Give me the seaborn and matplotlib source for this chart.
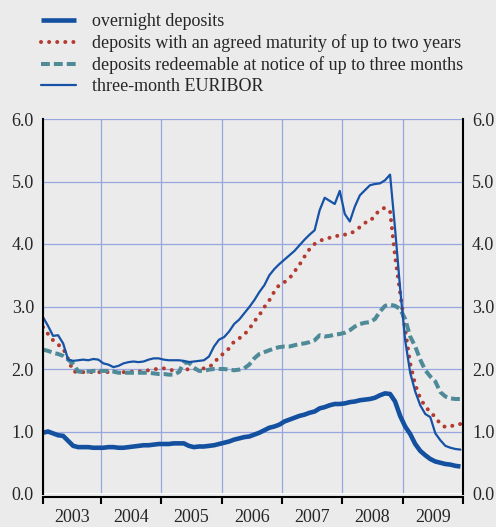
import numpy as np
import pandas as pd
import seaborn as sns
import matplotlib.pyplot as plt

# monthly values, Jan 2003 - Dec 2009
overnight = [0.98, 1.00, 0.97, 0.94, 0.93, 0.85, 0.77, 0.75, 0.75, 0.75, 0.74, 0.74,
             0.74, 0.75, 0.75, 0.74, 0.74, 0.75, 0.76, 0.77, 0.78, 0.78, 0.79, 0.80,
             0.80, 0.80, 0.81, 0.81, 0.81, 0.77, 0.75, 0.76, 0.76, 0.77, 0.78, 0.80,
             0.82, 0.84, 0.87, 0.89, 0.91, 0.92, 0.95, 0.98, 1.02, 1.06, 1.08, 1.11,
             1.16, 1.19, 1.22, 1.25, 1.27, 1.30, 1.32, 1.37, 1.39, 1.42, 1.44, 1.44,
             1.45, 1.47, 1.48, 1.50, 1.51, 1.52, 1.54, 1.58, 1.61, 1.60, 1.48, 1.25,
             1.08, 0.96, 0.80, 0.69, 0.62, 0.56, 0.52, 0.50, 0.48, 0.47, 0.45, 0.44]
agreed = [2.67, 2.56, 2.46, 2.39, 2.33, 2.16, 1.96, 1.95, 1.95, 1.95, 1.95, 1.95,
          1.95, 1.95, 1.95, 1.95, 1.95, 1.95, 1.96, 1.96, 1.97, 1.98, 1.99, 2.01,
          2.01, 2.00, 1.97, 1.96, 1.98, 2.00, 2.00, 2.00, 2.01, 2.03, 2.09, 2.20,
          2.25, 2.33, 2.44, 2.49, 2.55, 2.64, 2.76, 2.86, 2.99, 3.10, 3.24, 3.35,
          3.39, 3.45, 3.56, 3.67, 3.80, 3.92, 4.00, 4.05, 4.08, 4.10, 4.11, 4.15,
          4.15, 4.16, 4.21, 4.27, 4.34, 4.36, 4.46, 4.55, 4.58, 4.52, 3.80, 3.22,
          2.63, 2.09, 1.75, 1.53, 1.40, 1.31, 1.23, 1.12, 1.07, 1.08, 1.11, 1.12]
notice = [2.31, 2.29, 2.26, 2.24, 2.21, 2.15, 2.08, 1.96, 1.95, 1.96, 1.97, 1.97,
          1.97, 1.97, 1.96, 1.94, 1.94, 1.94, 1.94, 1.94, 1.94, 1.94, 1.93, 1.92,
          1.92, 1.91, 1.91, 1.95, 2.10, 2.10, 2.02, 1.97, 1.97, 1.99, 2.00, 2.00,
          2.00, 1.99, 1.98, 1.99, 2.01, 2.07, 2.17, 2.24, 2.27, 2.30, 2.33, 2.35,
          2.36, 2.36, 2.38, 2.40, 2.41, 2.43, 2.46, 2.54, 2.52, 2.53, 2.55, 2.56,
          2.58, 2.62, 2.68, 2.72, 2.74, 2.75, 2.80, 2.92, 3.01, 3.03, 3.01, 2.96,
          2.80, 2.52, 2.36, 2.15, 1.98, 1.88, 1.80, 1.63, 1.56, 1.53, 1.52, 1.52]
euribor = [2.83, 2.69, 2.53, 2.54, 2.41, 2.15, 2.13, 2.14, 2.15, 2.14, 2.16, 2.15,
           2.09, 2.07, 2.03, 2.05, 2.09, 2.11, 2.12, 2.11, 2.12, 2.15, 2.17, 2.17,
           2.15, 2.14, 2.14, 2.14, 2.13, 2.11, 2.12, 2.13, 2.14, 2.20, 2.36, 2.47,
           2.51, 2.60, 2.72, 2.79, 2.89, 2.99, 3.10, 3.23, 3.34, 3.50, 3.60, 3.68,
           3.75, 3.82, 3.89, 3.98, 4.07, 4.15, 4.22, 4.54, 4.74, 4.69, 4.64, 4.85,
           4.48, 4.36, 4.60, 4.78, 4.86, 4.94, 4.96, 4.97, 5.02, 5.11, 4.24, 3.29,
           2.46, 1.94, 1.64, 1.42, 1.28, 1.23, 0.97, 0.86, 0.77, 0.74, 0.72, 0.71]
years = ["2003", "2004", "2005", "2006", "2007", "2008", "2009"]
labels = ["overnight deposits",
          "deposits with an agreed maturity of up to two years",
          "deposits redeemable at notice of up to three months",
          "three-month EURIBOR"]

df = pd.DataFrame({"month": np.arange(len(euribor)), "overnight": overnight,
                   "agreed": agreed, "notice": notice, "euribor": euribor})

sns.set_style("white")
plt.rcParams["font.family"] = ["Liberation Serif", "DejaVu Serif"]
plt.rcParams["xtick.labelsize"] = 13
plt.rcParams["ytick.labelsize"] = 13
bg = "#ebebeb"

fig = plt.figure(figsize=(4.96, 5.27), dpi=100, facecolor=bg)
ax = fig.add_axes([43 / 496, 1 - 494 / 527, 420 / 496, 375 / 527])
ax.set_facecolor(bg)

sns.lineplot(data=df, x="month", y="overnight", ax=ax, color="#1450a0", lw=3.3,
             label=labels[0], solid_capstyle="butt")
sns.lineplot(data=df, x="month", y="agreed", ax=ax, color="#b23a2e", lw=2.9,
             linestyle=(0, (0.01, 2.0)), dash_capstyle="round", label=labels[1])
sns.lineplot(data=df, x="month", y="notice", ax=ax, color="#4f8a98", lw=2.9,
             linestyle=(0, (2.2, 1.0)), dash_capstyle="butt", label=labels[2])
sns.lineplot(data=df, x="month", y="euribor", ax=ax, color="#1652a6", lw=1.6,
             label=labels[3])

ax.set_xlim(0, 83.5)
ax.set_ylim(0, 6)
bounds = [0] + [11.5 + 12 * k for k in range(6)] + [83.5]
ax.set_xticks(bounds)
ax.set_xticklabels([])
ax.set_xticks([(bounds[k] + bounds[k + 1]) / 2 for k in range(7)], minor=True)
ax.set_xticklabels(years, minor=True)
ax.tick_params(axis="x", which="major", direction="out", length=5, width=1.5,
               color="black", bottom=True)
ax.tick_params(axis="x", which="minor", length=0, pad=9)
ax.set_yticks(range(7))
ax.set_yticklabels([f"{v:.1f}" for v in range(7)])
ax.tick_params(axis="y", left=False, right=False, labelleft=True,
               labelright=True, length=0, pad=6.5)
ax.set_xlabel("")
ax.set_ylabel("")

ax.grid(True, which="major", color="#98a6e0", lw=0.9)
ax.set_axisbelow(True)
ax.axhline(0, color="white", lw=2, zorder=1.5)

for s in ["left", "right", "bottom"]:
    ax.spines[s].set_visible(True)
    ax.spines[s].set_color("black")
    ax.spines[s].set_linewidth(1.5)
ax.spines["bottom"].set_position(("outward", 2))
ax.spines["top"].set_visible(False)

handles, labs = ax.get_legend_handles_labels()
ax.get_legend().remove()
fig.legend(handles, labs, loc="upper left", bbox_to_anchor=(34 / 496, 1 - 6 / 527),
           frameon=False, fontsize=13, handlelength=1.95, handletextpad=0.85,
           labelspacing=0.22, borderaxespad=0)

fig.savefig("out.png", dpi=100, facecolor=bg)
